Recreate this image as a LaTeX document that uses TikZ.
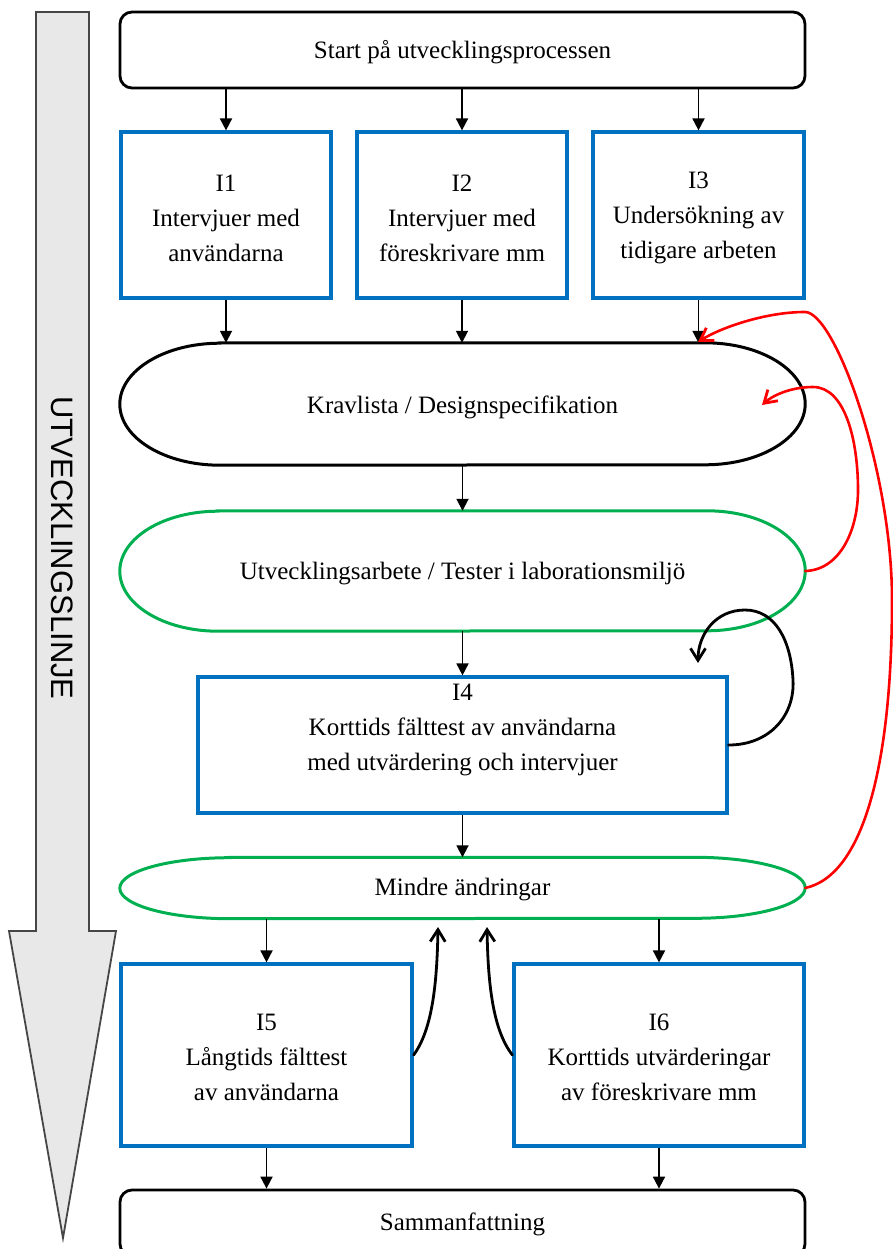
\documentclass[tikz,border=0pt]{standalone}
\usepackage{fontspec}
\setmainfont{Liberation Serif}
\setsansfont{Liberation Sans}
\usetikzlibrary{arrows.meta}
\definecolor{boxblue}{RGB}{0,112,192}
\definecolor{pillgreen}{RGB}{0,176,80}
\definecolor{loopred}{RGB}{255,0,0}
\definecolor{railfill}{RGB}{232,232,232}
\definecolor{railedge}{RGB}{70,70,70}

% Outline of a stadium shape with elliptical ends around node #1
% #2 = horizontal radius, #3 = vertical radius, #4 = draw options
\newcommand{\drawpill}[4]{%
  \draw[#4] ([xshift=#2pt]#1.north west) -- ([xshift=-#2pt]#1.north east)
    arc[start angle=90,end angle=-90,x radius=#2pt,y radius=#3pt]
    -- ([xshift=#2pt]#1.south west)
    arc[start angle=270,end angle=90,x radius=#2pt,y radius=#3pt] -- cycle;}

\begin{document}
\begin{tikzpicture}[x=1pt,y=-1pt,
  txt/.style={font=\fontsize{25}{35}\selectfont, align=center},
  roundbox/.style={txt, draw=black, line width=2.8pt, rounded corners=12pt,
                   minimum width=685pt, inner sep=0pt},
  stepbox/.style={txt, draw=boxblue, line width=3.2pt, inner sep=0pt},
  pillnode/.style={txt, inner sep=0pt, minimum width=685pt},
  conn/.style={line width=1.8pt, -{Triangle[width=12pt,length=12pt]}},
  curvearrow/.style={line width=2.8pt, line cap=round,
                     -{Straight Barb[width=15pt,length=12pt,line width=2.8pt]}},
  redarrow/.style={curvearrow, draw=loopred, line width=2.6pt}]

\useasboundingbox (0,0) rectangle (893,1249);
\clip (0,0) rectangle (893,1249);

% development line on the left
\draw[fill=railfill, draw=railedge, line width=1.8pt]
  (36,12) -- (89,12) -- (89,931) -- (116,931) -- (63,1238)
  -- (9,931) -- (36,931) -- cycle;
\node[font=\sffamily\fontsize{31}{31}\selectfont, rotate=-90] (rail) at (62,548) {UTVECKLINGSLINJE};

% boxes and their labels
\node[roundbox, minimum height=76pt] (start) at (462.5,50) {};
\node[txt] (starttxt) at (462.5,52) {Start på utvecklingsprocessen};

\node[stepbox, minimum width=210pt, minimum height=166pt] (I1) at (226,215) {};
\node[txt] (I1txt) at (226,218) {I1\\Intervjuer med\\användarna};
\node[stepbox, minimum width=210pt, minimum height=166pt] (I2) at (462,215) {};
\node[txt] (I2txt) at (462,218) {I2\\Intervjuer med\\föreskrivare mm};
\node[stepbox, minimum width=211pt, minimum height=166pt] (I3) at (698.5,215) {};
\node[txt] (I3txt) at (698.5,218) {I3\\Undersökning av\\tidigare arbeten};

\node[pillnode, minimum height=122pt] (krav) at (462.5,404) {};
\node[txt] (kravtxt) at (462.5,407) {Kravlista / Designspecifikation};
\drawpill{krav}{100}{61}{black, line width=3pt}

\node[pillnode, minimum height=120pt] (utv) at (462.5,571) {};
\node[txt] (utvtxt) at (462.5,574) {Utvecklingsarbete / Tester i laborationsmiljö};
\drawpill{utv}{98}{60}{pillgreen, line width=3pt}

\node[stepbox, minimum width=529pt, minimum height=136pt] (I4) at (462.5,745) {};
\node[txt] (I4txt) at (462.5,730) {I4\\Korttids fälttest av användarna\\med utvärdering och intervjuer};

\node[pillnode, minimum height=61pt] (mindre) at (462.5,888) {};
\node[txt] (mindretxt) at (462.5,890) {Mindre ändringar};
\drawpill{mindre}{110}{30.5}{pillgreen, line width=3pt}

\node[stepbox, minimum width=291pt, minimum height=182pt] (I5) at (266.5,1055) {};
\node[txt] (I5txt) at (266.5,1057) {I5\\Långtids fälttest\\av användarna};
\node[stepbox, minimum width=290pt, minimum height=182pt] (I6) at (659,1055) {};
\node[txt] (I6txt) at (659,1057) {I6\\Korttids utvärderingar\\av föreskrivare mm};

\node[roundbox, minimum height=66pt] (samman) at (462.5,1223) {};
\node[txt] (sammantxt) at (462.5,1224) {Sammanfattning};

% straight flow
\foreach \b in {I1,I2,I3}{
  \draw[conn] (\b.north |- start.south) -- (\b.north);
  \draw[conn] (\b.south) -- (\b.south |- krav.north);
}
\draw[conn] (krav.south) -- (utv.north);
\draw[conn] (utv.south) -- (I4.north);
\draw[conn] (I4.south) -- (mindre.north);
\foreach \b in {I5,I6}{
  \draw[conn] (\b.north |- mindre.south) -- (\b.north);
  \draw[conn] (\b.south) -- (\b.south |- samman.north);
}

% feedback loops
\coordinate (t4) at (698,663);
\draw[curvearrow] (I4.east) .. controls (770,745) and (795,715) .. (793,680)
  .. controls (791,640) and (775,610) .. (745,610)
  .. controls (715,610) and (698,635) .. (t4);

\coordinate (t5) at (438,927);
\coordinate (t6) at (487,927);
\draw[curvearrow] (I5.east) .. controls (432,1030) and (437,985) .. (t5);
\draw[curvearrow] (I6.west) .. controls (493,1030) and (488,985) .. (t6);

\coordinate (r1) at (698,342);
\draw[redarrow] (mindre.east) .. controls (865,875) and (892,760) .. (892,600)
  .. controls (892,470) and (835,312) .. (805,312)
  .. controls (765,312) and (720,328) .. (r1);

\coordinate (r2) at (762,405);
\draw[redarrow] (utv.east) .. controls (840,570) and (858,530) .. (858,490)
  .. controls (858,440) and (845,387) .. (813,387)
  .. controls (790,387) and (772,396) .. (r2);

\end{tikzpicture}
\end{document}
